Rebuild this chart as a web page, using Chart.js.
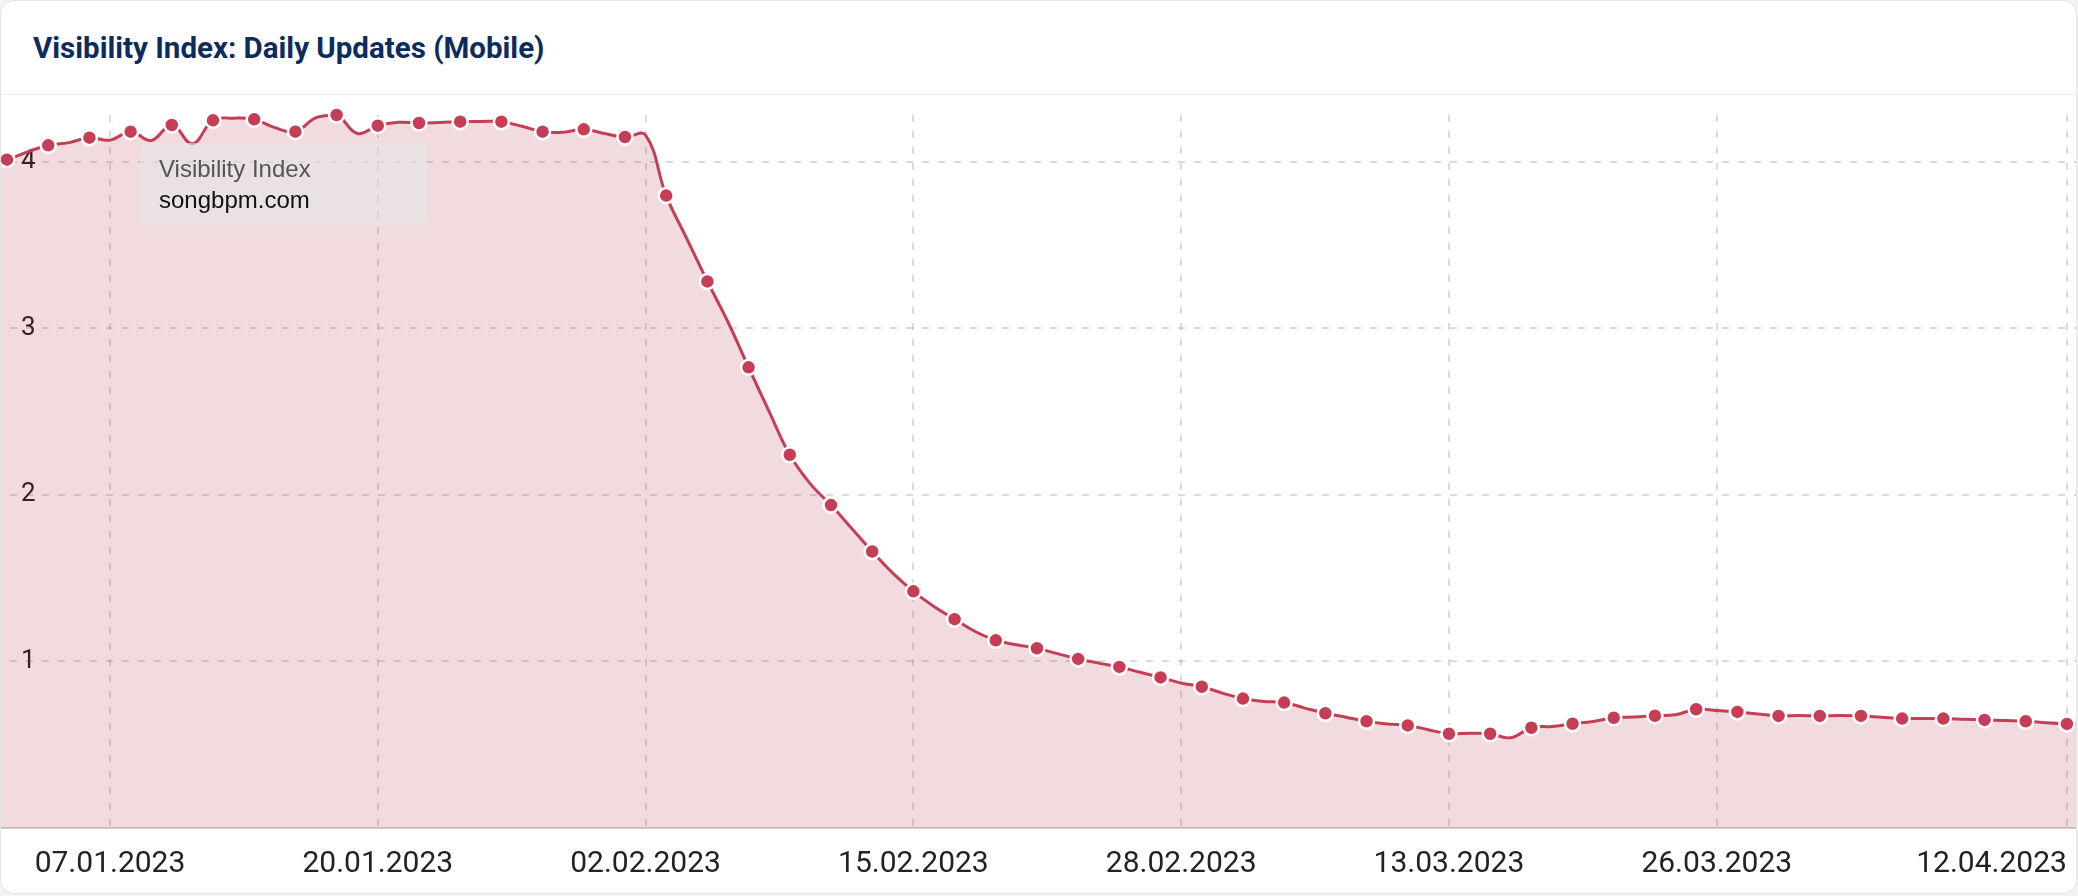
<!DOCTYPE html>
<html>
<head>
<meta charset="utf-8">
<script src="https://cdn.jsdelivr.net/npm/chart.js@4.4.1/dist/chart.umd.min.js"></script>
<style>
  html, body { margin: 0; padding: 0; background: #f3f3f3; }
  .card {
    position: absolute; left: 0; top: 0; width: 2077px; height: 894px;
    box-sizing: border-box; background: #fff; border: 1px solid #e3e3e3;
    border-radius: 14px; overflow: hidden;
  }
  .card h2 {
    margin: 0; height: 94px; box-sizing: border-box; padding-left: 32px;
    border-bottom: 1px solid #ebebeb;
    font: 700 29.5px Roboto, sans-serif; line-height: 94px; color: #0d2b5c;
  }
  .chart-wrap { position: absolute; left: 0; top: 94px; width: 2075px; height: 799px; }
</style>
</head>
<body>
<div class="card">
  <h2>Visibility Index: Daily Updates (Mobile)</h2>
  <div class="chart-wrap"><canvas id="visChart"></canvas></div>
</div>
<script>
const dates = [
  '01.01.2023','02.01.2023','03.01.2023','04.01.2023','05.01.2023','06.01.2023','07.01.2023','08.01.2023','09.01.2023','10.01.2023',
  '11.01.2023','12.01.2023','13.01.2023','14.01.2023','15.01.2023','16.01.2023','17.01.2023','18.01.2023','19.01.2023','20.01.2023',
  '21.01.2023','22.01.2023','23.01.2023','24.01.2023','25.01.2023','26.01.2023','27.01.2023','28.01.2023','29.01.2023','30.01.2023',
  '31.01.2023','01.02.2023','02.02.2023','03.02.2023','04.02.2023','05.02.2023','06.02.2023','07.02.2023','08.02.2023','09.02.2023',
  '10.02.2023','11.02.2023','12.02.2023','13.02.2023','14.02.2023','15.02.2023','16.02.2023','17.02.2023','18.02.2023','19.02.2023',
  '20.02.2023','21.02.2023','22.02.2023','23.02.2023','24.02.2023','25.02.2023','26.02.2023','27.02.2023','28.02.2023','01.03.2023',
  '02.03.2023','03.03.2023','04.03.2023','05.03.2023','06.03.2023','07.03.2023','08.03.2023','09.03.2023','10.03.2023','11.03.2023',
  '12.03.2023','13.03.2023','14.03.2023','15.03.2023','16.03.2023','17.03.2023','18.03.2023','19.03.2023','20.03.2023','21.03.2023',
  '22.03.2023','23.03.2023','24.03.2023','25.03.2023','26.03.2023','27.03.2023','28.03.2023','29.03.2023','30.03.2023','31.03.2023',
  '01.04.2023','02.04.2023','03.04.2023','04.04.2023','05.04.2023','06.04.2023','07.04.2023','08.04.2023','09.04.2023','10.04.2023',
  '11.04.2023','12.04.2023','13.04.2023'
];

const visibility = [
  3.99, 4.013, 4.06, 4.099, 4.115, 4.145, 4.13, 4.181, 4.128, 4.221,
  4.108, 4.249, 4.262, 4.255, 4.205, 4.181, 4.265, 4.281, 4.17, 4.217,
  4.237, 4.233, 4.236, 4.241, 4.242, 4.241, 4.213, 4.181, 4.178, 4.195,
  4.17, 4.149, 4.16, 3.797, 3.539, 3.282, 3.038, 2.766, 2.50, 2.241,
  2.066, 1.939, 1.80, 1.66, 1.53, 1.421, 1.33, 1.254, 1.18, 1.127,
  1.10, 1.079, 1.047, 1.015, 0.99, 0.967, 0.935, 0.904, 0.87, 0.848,
  0.81, 0.777, 0.76, 0.753, 0.72, 0.689, 0.665, 0.641, 0.625, 0.616,
  0.59, 0.566, 0.569, 0.566, 0.542, 0.602, 0.61, 0.626, 0.64, 0.662,
  0.666, 0.674, 0.68, 0.713, 0.705, 0.697, 0.685, 0.673, 0.676, 0.673,
  0.675, 0.673, 0.665, 0.657, 0.658, 0.657, 0.653, 0.649, 0.645, 0.641,
  0.632, 0.625, 0.62
];

const xTickLabels = ['07.01.2023', '20.01.2023', '02.02.2023', '15.02.2023', '28.02.2023', '13.03.2023', '26.03.2023', '12.04.2023'];
const yTicks = [1, 2, 3, 4];
const seriesName = 'Visibility Index';
const domainName = 'songbpm.com';

// visible day range (partial first/last day cut off at the edges)
const X_MIN = 0.709;
const X_MAX = 101.44;

const points = visibility.map((v, i) => ({ x: i, y: v }));
const tickPos = xTickLabels.map(l => dates.indexOf(l));

const lineColor = '#c63e56';

function noPadding(s) {
  s.paddingLeft = 0; s.paddingRight = 0; s.paddingTop = 0; s.paddingBottom = 0;
}

// grey box with series + domain, top-left of the plot
const legendBox = {
  id: 'legendBox',
  afterDatasetsDraw(chart) {
    const { ctx, chartArea } = chart;
    const bx = chartArea.left + 139, by = chartArea.top + 28;
    ctx.save();
    ctx.fillStyle = 'rgba(228,228,228,0.6)';
    ctx.beginPath();
    ctx.roundRect(bx, by, 287, 82, 8);
    ctx.fill();
    ctx.font = '24px "Liberation Sans", Arial, sans-serif';
    ctx.textBaseline = 'alphabetic';
    ctx.fillStyle = '#555';
    ctx.fillText(seriesName, bx + 19, by + 34);
    ctx.fillStyle = '#111';
    ctx.fillText(domainName, bx + 19, by + 65);
    ctx.restore();
  }
};

const ctx = document.getElementById('visChart');

new Chart(ctx, {
  type: 'line',
  data: {
    datasets: [{
      label: seriesName,
      data: points,
      borderColor: lineColor,
      borderWidth: 3,
      backgroundColor: 'rgba(170,30,55,0.16)',
      fill: 'origin',
      tension: 0.4,
      clip: false,
      pointRadius: c => (c.dataIndex % 2 === 1 ? 7.5 : 0),
      pointHoverRadius: c => (c.dataIndex % 2 === 1 ? 7.5 : 0),
      pointBackgroundColor: lineColor,
      pointBorderColor: '#fff',
      pointBorderWidth: 2.5
    }]
  },
  options: {
    responsive: true,
    maintainAspectRatio: false,
    animation: false,
    layout: { padding: { top: 20, left: 0, right: 0, bottom: 0 } },
    plugins: {
      legend: { display: false },
      tooltip: { enabled: false }
    },
    scales: {
      x: {
        type: 'linear',
        min: X_MIN,
        max: X_MAX,
        afterBuildTicks: s => {
          // dummy first tick so that 'inner' only right-aligns the last label
          s.ticks = [{ value: X_MIN }].concat(tickPos.map(v => ({ value: v })));
        },
        afterFit: s => { s.height = 66; noPadding(s); },
        ticks: {
          autoSkip: false,
          maxRotation: 0,
          align: 'inner',
          padding: 18,
          color: '#222',
          font: { family: 'Roboto', size: 30 },
          callback: v => {
            const i = tickPos.indexOf(v);
            return i < 0 ? '' : xTickLabels[i];
          }
        },
        grid: {
          drawTicks: false,
          lineWidth: 2,
          color: c => (c.index === 0 ? 'rgba(0,0,0,0)' : 'rgba(0,0,0,0.14)')
        },
        border: { display: true, color: '#d8cdd0', width: 2, dash: [7, 9], dashOffset: 0 }
      },
      y: {
        min: 0,
        max: Math.max(...visibility),
        afterBuildTicks: s => { s.ticks = yTicks.map(v => ({ value: v })); },
        afterFit: s => { s.width = 0; noPadding(s); },
        ticks: {
          mirror: true,
          padding: 20,
          color: '#222',
          font: { family: 'Roboto', size: 26 }
        },
        grid: { drawTicks: false, lineWidth: 2, color: 'rgba(0,0,0,0.14)' },
        border: { display: false, dash: [7, 9], dashOffset: 7 }
      }
    }
  },
  plugins: [legendBox]
});
</script>
</body>
</html>
